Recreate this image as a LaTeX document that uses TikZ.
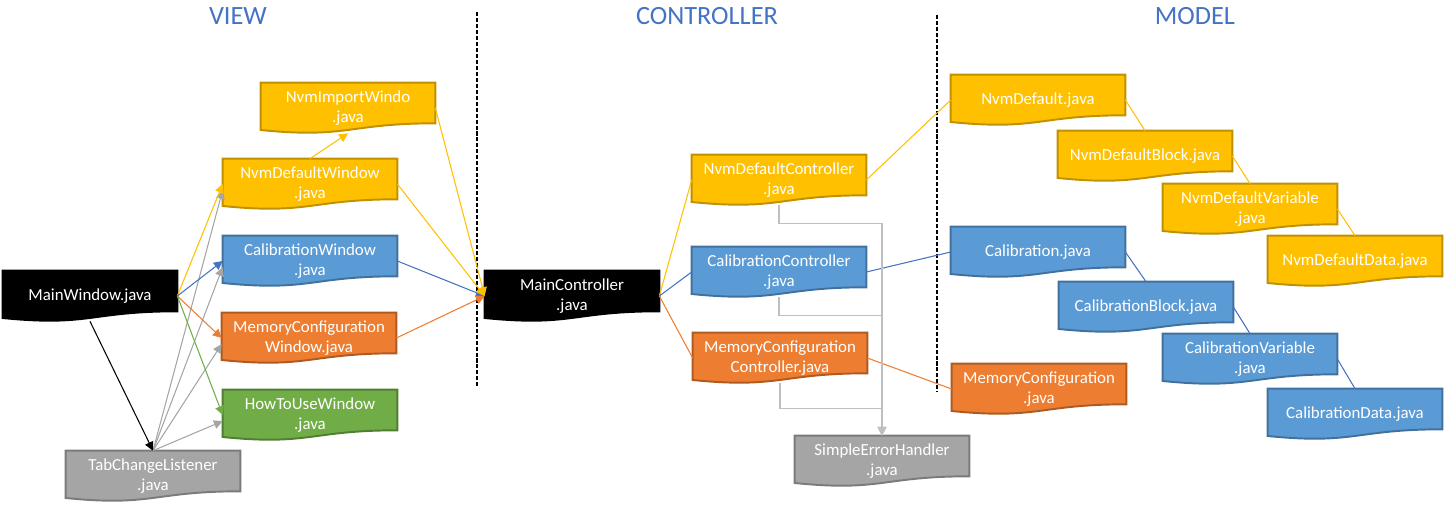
\documentclass[tikz,border=0pt]{standalone}
\usepackage{fontspec}
\setmainfont{Carlito}
\usetikzlibrary{arrows.meta,calc,backgrounds}

\definecolor{fyellow}{HTML}{FFC000}
\definecolor{byellow}{HTML}{BF9000}
\definecolor{fblue}{HTML}{5B9BD5}
\definecolor{bblue}{HTML}{41719C}
\definecolor{lblue}{HTML}{4472C4}
\definecolor{forange}{HTML}{ED7D31}
\definecolor{borange}{HTML}{AE5A21}
\definecolor{fgreen}{HTML}{70AD47}
\definecolor{bgreen}{HTML}{507E32}
\definecolor{fgray}{HTML}{A5A5A5}
\definecolor{bgray}{HTML}{7B7B7B}
\definecolor{lgray}{HTML}{BFBFBF}

% document outline behind a named node: #1 node, #2 fill, #3 border
\newcommand{\docshape}[3]{%
  \filldraw[fill=#2, draw=#3, line width=1.1pt]
    (#1.north west) -- (#1.north east) -- ($(#1.north east)!0.802!(#1.south east)$)
    .. controls ($(#1.north)!0.802!(#1.south)$) and ($(#1.north)!1.107!(#1.south)$)
    .. ($(#1.north west)!0.934!(#1.south west)$) -- cycle;}

\tikzset{
  file/.style={minimum width=3.48cm, minimum height=1cm, inner sep=0pt,
    align=center, text=white, font=\fontsize{9.6}{11.4}\selectfont},
  title/.style={text=lblue, font=\fontsize{15}{18}\selectfont},
  link/.style={line width=0.6pt},
  tip/.style={-{Triangle[length=5pt,width=5pt]}},
  divider/.style={line width=0.6pt, dash pattern=on 2.3pt off 1.1pt},
}

\begin{document}
\begin{tikzpicture}[x=0.02cm, y=-0.02cm]
  \useasboundingbox (0,0) rectangle (1449,504);

  \node[title] (view) at (238,16) {VIEW};
  \node[title] (ctrl) at (707,16) {CONTROLLER};
  \node[title] (model) at (1195,16) {MODEL};

  \draw[divider] (477,12) -- (477,387);
  \draw[divider] (937,15) -- (937,392);

  % view
  \node[file] (mw) at (90,296) {MainWindow.java};
  \node[file] (niw) at (348,108) {NvmImportWindo\\.java};
  \node[file] (ndw) at (310,184) {NvmDefaultWindow\\.java};
  \node[file] (cw) at (310,261) {CalibrationWindow\\.java};
  \node[file] (mcw) at (309,338) {MemoryConfiguration\\Window.java};
  \node[file] (htw) at (310,415) {HowToUseWindow\\.java};
  \node[file] (tcl) at (153,476) {TabChangeListener\\.java};

  % controller
  \node[file] (mc) at (572,296) {MainController\\.java};
  \node[file] (ndc) at (779,180) {NvmDefaultController\\.java};
  \node[file] (cc) at (779,272) {CalibrationController\\.java};
  \node[file] (mcc) at (780,358) {MemoryConfiguration\\Controller.java};
  \node[file] (seh) at (882,461) {SimpleErrorHandler\\.java};

  % model
  \node[file] (nd) at (1038,100) {NvmDefault.java};
  \node[file] (ndb) at (1145,156) {NvmDefaultBlock.java};
  \node[file] (ndv) at (1250,209) {NvmDefaultVariable\\.java};
  \node[file] (ndd) at (1355,261) {NvmDefaultData.java};
  \node[file] (cal) at (1038,252) {Calibration.java};
  \node[file] (cb) at (1146,307) {CalibrationBlock.java};
  \node[file] (cv) at (1250,359) {CalibrationVariable\\.java};
  \node[file] (cd) at (1355,414) {CalibrationData.java};
  \node[file] (mcm) at (1039,389) {MemoryConfiguration\\.java};

  \begin{pgfonlayer}{background}
    \docshape{mw}{black}{black}
    \docshape{niw}{fyellow}{byellow}
    \docshape{ndw}{fyellow}{byellow}
    \docshape{cw}{fblue}{bblue}
    \docshape{mcw}{forange}{borange}
    \docshape{htw}{fgreen}{bgreen}
    \docshape{tcl}{fgray}{bgray}
    \docshape{mc}{black}{black}
    \docshape{ndc}{fyellow}{byellow}
    \docshape{cc}{fblue}{bblue}
    \docshape{mcc}{forange}{borange}
    \docshape{seh}{fgray}{bgray}
    \docshape{nd}{fyellow}{byellow}
    \docshape{ndb}{fyellow}{byellow}
    \docshape{ndv}{fyellow}{byellow}
    \docshape{ndd}{fyellow}{byellow}
    \docshape{cal}{fblue}{bblue}
    \docshape{cb}{fblue}{bblue}
    \docshape{cv}{fblue}{bblue}
    \docshape{cd}{fblue}{bblue}
    \docshape{mcm}{forange}{borange}
  \end{pgfonlayer}

  \begin{scope}[link, tip]
    \draw[fgray] (tcl.north) to (ndw.184);
    \draw[fgray] (tcl.north) to (cw.184);
    \draw[fgray] (tcl.north) to (mcw.184);
    \draw[fgray] (tcl.north) to (htw.184);
    \draw[black] (mw.south) to (tcl.north);
    \draw[fyellow] (mw.east) to (ndw.west);
    \draw[lblue] (mw.east) to (cw.west);
    \draw[forange] (mw.east) to (mcw.west);
    \draw[fgreen] (mw.east) to (htw.west);
    \draw[fyellow] (ndw.north) to (niw.south);
    \draw[lblue] (cw.east) to (mc.west);
    \draw[forange] (mcw.east) to (mc.west);
    \draw[fyellow] (ndw.east) to (mc.west);
    \draw[fyellow] (niw.east) to (mc.west);
  \end{scope}

  \begin{scope}[link, -]
    \draw[fyellow] (mc.east) to (ndc.west);
    \draw[lblue] (mc.east) to (cc.west);
    \draw[forange] (mc.east) to (mcc.west);
    \draw[fyellow] (ndc.east) to (nd.west);
    \draw[lblue] (cc.east) to (cal.west);
    \draw[forange] (mcc.east) to (mcm.west);
    \draw[fyellow] (nd.east) to (ndb.north);
    \draw[fyellow] (ndb.east) to (ndv.north);
    \draw[fyellow] (ndv.east) to (ndd.north);
    \draw[lblue] (cal.east) to (cb.north);
    \draw[lblue] (cb.east) to (cv.north);
    \draw[lblue] (cv.east) to (cd.north);
  \end{scope}

  \begin{scope}[link, lgray, tip]
    \draw (ndc.south) -- ++(0,18) -| (seh.north);
    \draw (cc.south) -- ++(0,18) -| (seh.north);
    \draw (mcc.south) -- ++(0,25) -| (seh.north);
  \end{scope}
\end{tikzpicture}
\end{document}
